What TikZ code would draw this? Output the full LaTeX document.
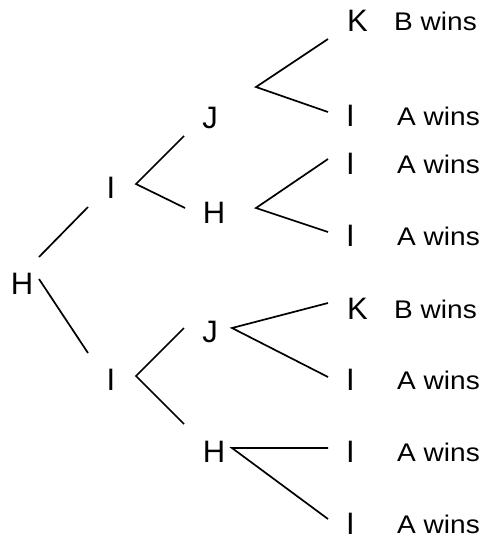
\documentclass[tikz,border=0pt]{standalone}
\usepackage{fontspec}
\setmainfont{Liberation Sans}
\newfontfamily\winsfont[FakeStretch=1.1]{Liberation Sans}
\begin{document}
\begin{tikzpicture}[x=1pt,y=-1pt,
  lett/.style={inner sep=0pt,font=\fontsize{31}{31}\selectfont},
  wins/.style={inner sep=0pt,anchor=west,font=\winsfont\fontsize{25.5}{25.5}\selectfont},
  branch/.style={line width=1.7pt,line cap=butt}]
\useasboundingbox (0,0) rectangle (483,538);
% letter nodes
\node[lett] (h0) at (22,283.5) {H};
\node[lett] (i1a) at (111,188) {I};
\node[lett] (i1b) at (111,380) {I};
\node[lett] (j2a) at (210,118) {J};
\node[lett] (h2a) at (214,213) {H};
\node[lett] (j2b) at (210,332) {J};
\node[lett] (h2b) at (214,452) {H};
\node[lett] (l1) at (357.5,21) {K};
\node[lett] (l2) at (350.5,116) {I};
\node[lett] (l3) at (350.5,164) {I};
\node[lett] (l4) at (350.5,236) {I};
\node[lett] (l5) at (357.5,309) {K};
\node[lett] (l6) at (350.5,380) {I};
\node[lett] (l7) at (350.5,452) {I};
\node[lett] (l8) at (350.5,524) {I};
% outcome labels
\node[wins] (w1) at (394,21.5) {B wins};
\node[wins] (w2) at (397,116) {A wins};
\node[wins] (w3) at (397,164) {A wins};
\node[wins] (w4) at (397,236) {A wins};
\node[wins] (w5) at (394,309) {B wins};
\node[wins] (w6) at (397,380) {A wins};
\node[wins] (w7) at (397,452) {A wins};
\node[wins] (w8) at (397,524) {A wins};
% branch coordinates
\coordinate (h0u) at (39,257);
\coordinate (h0d) at (39,279);
\coordinate (i1aIn) at (88,207);
\coordinate (i1bIn) at (88,353);
\coordinate (v1a) at (136,184);
\coordinate (v1b) at (136,376);
\coordinate (j2aIn) at (184,136);
\coordinate (h2aIn) at (185,208);
\coordinate (j2bIn) at (184,328);
\coordinate (h2bIn) at (184,424);
\coordinate (v2a) at (256,87);
\coordinate (v2b) at (256,208);
\coordinate (v2c) at (232,328);
\coordinate (v2d) at (232,448);
\coordinate (e1) at (328,39);
\coordinate (e2) at (328,112);
\coordinate (e3) at (328,159);
\coordinate (e4) at (328,232);
\coordinate (e5) at (328,303);
\coordinate (e6) at (328,377);
\coordinate (e7) at (328,448);
\coordinate (e8) at (328,519);
% branches
\draw[branch] (h0u) -- (i1aIn);
\draw[branch] (h0d) -- (i1bIn);
\draw[branch] (j2aIn) -- (v1a) -- (h2aIn);
\draw[branch] (j2bIn) -- (v1b) -- (h2bIn);
\draw[branch] (e1) -- (v2a) -- (e2);
\draw[branch] (e3) -- (v2b) -- (e4);
\draw[branch] (e5) -- (v2c) -- (e6);
\draw[branch] (e7) -- (v2d) -- (e8);
\end{tikzpicture}
\end{document}
